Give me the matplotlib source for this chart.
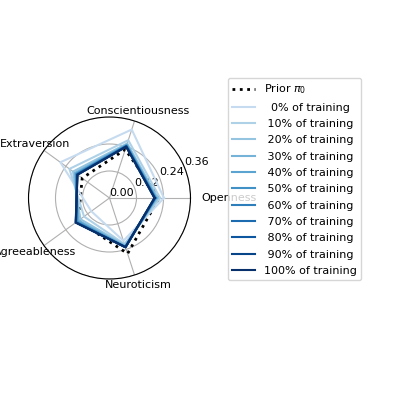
import numpy as np
import matplotlib
matplotlib.use("Agg")
import matplotlib.pyplot as plt

traits = ['Openness', 'Conscientiousness', 'Extraversion', 'Agreeableness', 'Neuroticism']

prior = [0.220, 0.227, 0.150, 0.172, 0.260]

# one row per checkpoint (0%, 10%, ..., 100% of training)
pcts = [0, 10, 20, 30, 40, 50, 60, 70, 80, 90, 100]
traj = [
    [0.242, 0.320, 0.270, 0.100, 0.200],
    [0.225, 0.270, 0.220, 0.140, 0.215],
    [0.215, 0.255, 0.200, 0.160, 0.220],
    [0.210, 0.250, 0.190, 0.170, 0.225],
    [0.206, 0.248, 0.185, 0.175, 0.228],
    [0.205, 0.245, 0.182, 0.180, 0.228],
    [0.203, 0.243, 0.180, 0.182, 0.230],
    [0.202, 0.242, 0.178, 0.184, 0.230],
    [0.201, 0.241, 0.177, 0.185, 0.230],
    [0.200, 0.240, 0.176, 0.185, 0.230],
    [0.200, 0.240, 0.176, 0.186, 0.230],
]

rticks = [0.0, 0.12, 0.24, 0.36]

angles = np.linspace(0, 2 * np.pi, len(traits), endpoint=False)
ang_closed = np.append(angles, angles[0])

def closed(v):
    return np.append(v, v[0])

fig = plt.figure(figsize=(3.99, 3.99), dpi=100)
ax = fig.add_axes([(109.5 - 81) / 399, (399 - 279) / 399, 162 / 399, 162 / 399], polar=True)

ax.plot(ang_closed, closed(prior), color='black', linestyle=':', linewidth=2, label=r'Prior $\pi_0$')

colors = plt.cm.Blues(np.linspace(0.25, 1.0, len(pcts)))
for p, vals, c in zip(pcts, traj, colors):
    ax.plot(ang_closed, closed(vals), color=c, linewidth=1.5, label=f'{p:3d}% of training')

ax.set_thetagrids(np.degrees(angles), traits, fontsize=8)
ax.tick_params(axis='x', pad=-2.7)
for lab in ax.get_xticklabels():
    if lab.get_text() == 'Openness':
        lab.set_horizontalalignment('left')
ax.set_ylim(0, 0.36)
ax.set_yticks(rticks)
ax.set_yticklabels([f'{t:.2f}' for t in rticks], fontsize=8)

ax.legend(loc='upper left', bbox_to_anchor=(228 / 399, 1 - 78 / 399),
          bbox_transform=fig.transFigure, borderaxespad=0, fontsize=8,
          labelspacing=0.57)

fig.savefig('out.png', dpi=100)
